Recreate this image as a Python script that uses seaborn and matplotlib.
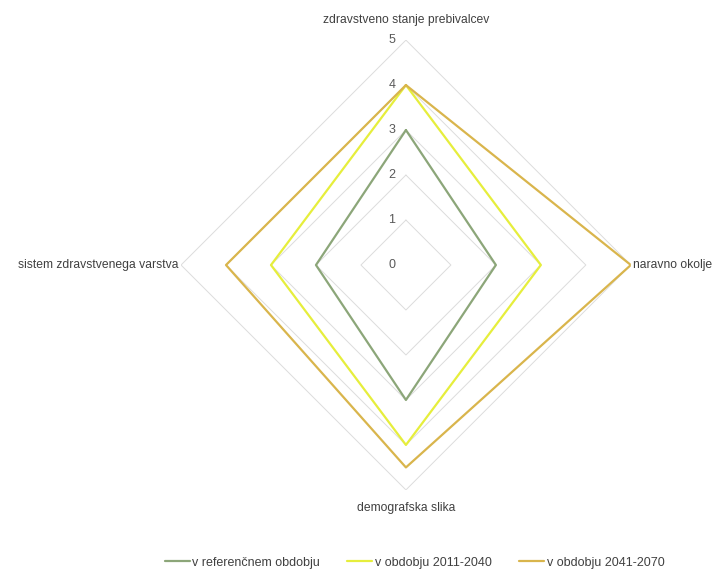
import numpy as np
import pandas as pd
import seaborn as sns
import matplotlib
matplotlib.use("Agg")
import matplotlib.pyplot as plt
from matplotlib.transforms import offset_copy

categories = [
    "zdravstveno stanje prebivalcev",
    "naravno okolje",
    "demografska slika",
    "sistem zdravstvenega varstva",
]
series_names = [
    "v referenčnem obdobju",
    "v obdobju 2011-2040",
    "v obdobju 2041-2070",
]
ref_values = [3, 2, 3, 2]
p2011_values = [4, 3, 4, 3]
p2041_values = [4, 5, 4.5, 4]
radial_ticks = [0, 1, 2, 3, 4, 5]

colors = ["#8ca679", "#e6ee3c", "#d9b54c"]

sns.set_theme(style="white")
plt.rcParams["font.family"] = ["Liberation Sans", "DejaVu Sans"]

n = len(categories)
angles = np.arange(n) * 2 * np.pi / n

# long-form table with each polygon closed back to its first vertex
rows = []
for name, vals in zip(series_names, [ref_values, p2011_values, p2041_values]):
    for i in range(n + 1):
        rows.append({"theta": angles[i % n] if i < n else 2 * np.pi,
                     "value": vals[i % n], "series": name, "order": i})
df = pd.DataFrame(rows)

fig = plt.figure(figsize=(7.21, 5.73), dpi=100)
ax = fig.add_axes([0.251, 0.145, 0.624, 0.785], projection="polar")
ax.set_theta_offset(np.pi / 2)
ax.set_theta_direction(-1)
ax.set_ylim(0, 5)
ax.grid(False)
ax.spines["polar"].set_visible(False)
ax.set_xticks([])
ax.set_yticks([])

# straight-edged grid polygons
for r in radial_ticks[1:]:
    ax.plot(np.append(angles, 2 * np.pi), [r] * (n + 1),
            color="#dcdcdc", lw=0.7, zorder=1)

sns.lineplot(data=df, x="theta", y="value", hue="series", units="series",
             estimator=None, sort=False, palette=colors, lw=1.6, ax=ax,
             legend=False, zorder=3)

# radial value labels just left of the top spoke
tr = offset_copy(ax.transData, fig=fig, x=-14, y=0, units="dots")
for r in radial_ticks:
    ax.text(0, r, str(r), transform=tr, ha="center", va="center",
            fontsize=9, color="#595959")

# category labels
lab_kw = dict(fontsize=8.7, color="#404040")
ax.text(angles[0], 5.45, categories[0], ha="center", va="center", **lab_kw)
ax.text(angles[1], 5.05, categories[1], ha="left", va="center", **lab_kw)
ax.text(angles[2], 5.4, categories[2], ha="center", va="center", **lab_kw)
ax.text(angles[3], 5.05, categories[3], ha="right", va="center", **lab_kw)

handles = [plt.Line2D([0], [0], color=c, lw=1.6) for c in colors]
fig.legend(handles, series_names, loc="lower center", ncol=3,
           bbox_to_anchor=(0.575, -0.012), frameon=False, fontsize=9,
           handlelength=2.0, handletextpad=0.2, columnspacing=2.2,
           labelcolor="#404040")

fig.savefig("out.png", dpi=100)
